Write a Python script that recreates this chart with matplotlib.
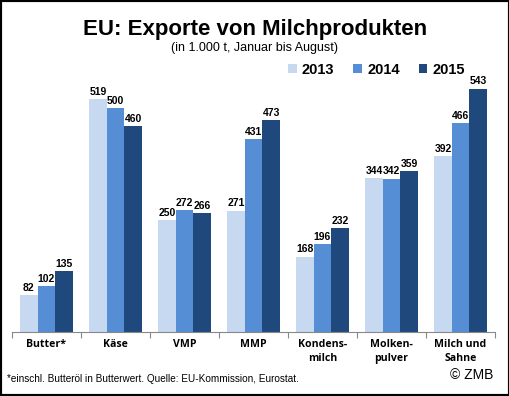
import matplotlib
matplotlib.use("Agg")
import matplotlib.pyplot as plt
import numpy as np
from matplotlib.patches import Rectangle

# Data (1.000 t, Januar bis August)
categories = ["Butter*", "Käse", "VMP", "MMP", "Kondens-\nmilch", "Molken-\npulver", "Milch und\nSahne"]
years = ["2013", "2014", "2015"]
v2013 = [82, 519, 250, 271, 168, 344, 392]
v2014 = [102, 500, 272, 431, 196, 342, 466]
v2015 = [135, 460, 266, 473, 232, 359, 543]
colors = ["#c6d9f1", "#558ed5", "#1f497d"]

plt.rcParams["font.family"] = ["Liberation Sans", "DejaVu Sans"]

fig = plt.figure(figsize=(5.1, 3.96), dpi=100)
ax = fig.add_axes([12 / 510, 64 / 396, 483 / 510, 269 / 396])

x = np.arange(len(categories))
w = 0.255
for i, (vals, col) in enumerate(zip([v2013, v2014, v2015], colors)):
    bars = ax.bar(x + (i - 1) * w, vals, w, color=col, label=years[i])
    for b, v in zip(bars, vals):
        ax.text(b.get_x() + b.get_width() / 2, v + 5, str(v), ha="center", va="bottom",
                fontsize=7.5, fontweight="bold")

ax.set_xlim(-0.5, len(categories) - 0.5)
ax.set_ylim(0, 600)
for s in ["top", "right", "left"]:
    ax.spines[s].set_visible(False)
ax.spines["bottom"].set_color("#888888")
ax.set_yticks([])
ax.set_xticks(np.arange(-0.5, len(categories), 1))
ax.set_xticklabels([])
ax.tick_params(axis="x", length=4, color="#888888")
for xi, c in zip(x, categories):
    ax.text(xi, -15, c, ha="center", va="top", fontsize=7.6, fontweight="bold",
            family=["Open Sans", "DejaVu Sans"], linespacing=1.35)

ax.legend(loc="upper right", bbox_to_anchor=(0.965, 1.05), ncol=3, frameon=False,
          prop={"weight": "bold", "size": 10.5}, handlelength=0.6, handleheight=0.6,
          columnspacing=1.3, handletextpad=0.35)

fig.text(0.5, 0.925, "EU: Exporte von Milchprodukten", ha="center", va="center",
         fontsize=16, fontweight="bold")
fig.text(0.5, 0.88, "(in 1.000 t, Januar bis August)", ha="center", va="center", fontsize=9)
fig.text(7 / 510, 1 - 379 / 396, "*einschl. Butteröl in Butterwert. Quelle: EU-Kommission, Eurostat.",
         ha="left", va="center", fontsize=7.2)
fig.text(493 / 510, 1 - 375 / 396, "© ZMB", ha="right", va="center", fontsize=10)

fig.patches.append(Rectangle((0, 0), 1, 1, transform=fig.transFigure, fill=False,
                             edgecolor="black", linewidth=3))

plt.savefig("out.png", dpi=100)
